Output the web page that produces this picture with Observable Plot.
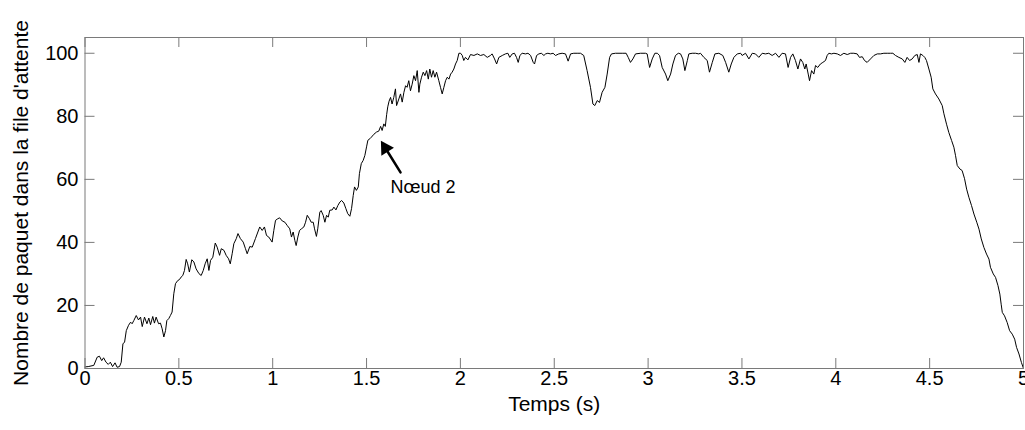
<!DOCTYPE html>
<html>
<head>
<meta charset="utf-8">
<script src="https://cdn.jsdelivr.net/npm/d3@7"></script>
<script src="https://cdn.jsdelivr.net/npm/@observablehq/plot@0.6"></script>
<style>
  html, body { margin: 0; padding: 0; background: #fff; }
  #chart svg { display: block; }
</style>
</head>
<body>
<div id="chart"></div>
<script>
// Time (s) samples
const time = [
  0, 0.017, 0.047, 0.065, 0.077, 0.089, 0.099, 0.112, 0.124, 0.135, 0.147, 0.160, 0.171, 0.184, 0.193,
  0.202, 0.211, 0.220, 0.232, 0.243, 0.251, 0.260, 0.273, 0.285, 0.296, 0.305, 0.317, 0.330, 0.340, 0.349,
  0.361, 0.370, 0.379, 0.392, 0.402, 0.411, 0.420, 0.429, 0.436, 0.446, 0.455, 0.464, 0.473, 0.482, 0.494,
  0.503, 0.512, 0.521, 0.530, 0.539, 0.547, 0.556, 0.569, 0.580, 0.592, 0.607, 0.619, 0.630, 0.640, 0.651,
  0.660, 0.669, 0.681, 0.694, 0.704, 0.717, 0.726, 0.740, 0.752, 0.765, 0.774, 0.784, 0.793, 0.806, 0.815,
  0.828, 0.843, 0.855, 0.864, 0.878, 0.891, 0.908, 0.921, 0.931, 0.944, 0.956, 0.967, 0.979, 0.997, 1.006,
  1.015, 1.027, 1.037, 1.051, 1.065, 1.077, 1.091, 1.100, 1.109, 1.118, 1.125, 1.134, 1.143, 1.153, 1.166,
  1.175, 1.184, 1.196, 1.205, 1.216, 1.223, 1.233, 1.240, 1.251, 1.258, 1.269, 1.278, 1.287, 1.296, 1.304,
  1.317, 1.326, 1.337, 1.347, 1.358, 1.367, 1.379, 1.390, 1.400, 1.411, 1.420, 1.429, 1.436, 1.446, 1.456,
  1.462, 1.472, 1.482, 1.491, 1.500, 1.507, 1.518, 1.526, 1.539, 1.553, 1.565, 1.575, 1.583, 1.592, 1.600,
  1.607, 1.613, 1.620, 1.628, 1.636, 1.645, 1.654, 1.660, 1.672, 1.681, 1.690, 1.699, 1.708, 1.716, 1.725,
  1.734, 1.743, 1.752, 1.761, 1.770, 1.779, 1.784, 1.793, 1.802, 1.811, 1.820, 1.829, 1.837, 1.846, 1.855,
  1.864, 1.873, 1.885, 1.894, 1.903, 1.912, 1.921, 1.930, 1.939, 1.948, 1.956, 1.965, 1.974, 1.983, 1.992,
  2.001, 2.010, 2.018, 2.027, 2.040, 2.054, 2.072, 2.090, 2.107, 2.125, 2.143, 2.160, 2.169, 2.182, 2.193,
  2.205, 2.223, 2.240, 2.253, 2.263, 2.276, 2.288, 2.299, 2.308, 2.317, 2.329, 2.347, 2.360, 2.374, 2.388,
  2.395, 2.406, 2.418, 2.431, 2.445, 2.454, 2.466, 2.480, 2.494, 2.507, 2.524, 2.542, 2.560, 2.574, 2.587,
  2.604, 2.622, 2.640, 2.657, 2.675, 2.693, 2.706, 2.716, 2.729, 2.741, 2.755, 2.770, 2.782, 2.795, 2.805,
  2.826, 2.862, 2.883, 2.894, 2.906, 2.919, 2.933, 2.960, 2.986, 2.995, 3.008, 3.022, 3.036, 3.049, 3.061,
  3.075, 3.093, 3.105, 3.120, 3.132, 3.146, 3.161, 3.173, 3.185, 3.196, 3.209, 3.217, 3.235, 3.253, 3.270,
  3.279, 3.297, 3.315, 3.327, 3.342, 3.356, 3.377, 3.398, 3.413, 3.430, 3.443, 3.457, 3.475, 3.493, 3.501,
  3.519, 3.537, 3.555, 3.572, 3.590, 3.608, 3.625, 3.643, 3.661, 3.679, 3.697, 3.714, 3.732, 3.746, 3.759,
  3.771, 3.785, 3.798, 3.812, 3.824, 3.835, 3.842, 3.853, 3.860, 3.871, 3.883, 3.892, 3.904, 3.918, 3.931,
  3.945, 3.954, 3.963, 3.977, 3.990, 4.008, 4.025, 4.043, 4.061, 4.079, 4.096, 4.114, 4.126, 4.141, 4.153,
  4.167, 4.185, 4.203, 4.221, 4.238, 4.256, 4.274, 4.291, 4.304, 4.318, 4.336, 4.354, 4.368, 4.380, 4.393,
  4.407, 4.421, 4.434, 4.443, 4.451, 4.464, 4.474, 4.483, 4.496, 4.508, 4.517, 4.531, 4.549, 4.567, 4.576,
  4.590, 4.602, 4.617, 4.629, 4.638, 4.647, 4.661, 4.673, 4.686, 4.697, 4.709, 4.723, 4.736, 4.751, 4.763,
  4.775, 4.789, 4.803, 4.816, 4.824, 4.839, 4.851, 4.864, 4.874, 4.881, 4.887, 4.899, 4.913, 4.926, 4.940,
  4.953, 4.963, 4.976, 4.989, 5.000
];

// Queue length (packets) at each sample
const packets = [
  0.5, 0.6, 1.0, 3.6, 3.9, 2.5, 3.4, 2.0, 1.3, 2.0, 0.6, 1.8, 0.4, 0.6, 2.0,
  7.8, 8.4, 12.0, 13.7, 14.7, 14.2, 15.2, 16.8, 15.4, 16.3, 13.3, 16.3, 14.2, 16.0, 13.9,
  16.5, 14.4, 16.3, 14.2, 14.4, 12.6, 10.0, 12.0, 15.2, 15.8, 16.8, 17.9, 23.7, 26.9, 27.9,
  28.2, 29.0, 29.5, 31.1, 34.6, 33.2, 30.6, 34.5, 33.8, 31.6, 30.1, 29.5, 31.1, 33.2, 34.8,
  31.1, 34.3, 35.3, 39.8, 38.5, 35.9, 38.0, 37.5, 35.9, 34.8, 33.2, 36.4, 39.6, 41.2, 42.8,
  41.2, 40.1, 38.0, 36.4, 38.7, 38.5, 41.2, 43.3, 44.9, 43.8, 44.9, 42.2, 41.7, 40.1, 43.8,
  47.0, 47.5, 47.8, 46.8, 46.4, 45.4, 44.3, 41.7, 43.3, 40.6, 39.0, 41.7, 43.8, 44.3, 44.9,
  46.4, 48.6, 47.5, 46.4, 46.4, 44.3, 41.9, 44.3, 49.6, 50.1, 48.6, 46.4, 48.6, 48.0, 50.2,
  50.3, 51.2, 50.3, 51.7, 52.8, 53.3, 52.5, 50.7, 49.1, 48.3, 50.7, 54.9, 57.6, 56.5, 57.6,
  61.8, 65.0, 66.0, 67.6, 70.3, 72.4, 72.9, 73.4, 74.3, 75.0, 75.3, 76.8, 75.5, 77.6, 76.8,
  80.5, 83.0, 84.8, 86.0, 83.9, 86.0, 88.7, 83.4, 85.5, 87.1, 84.5, 87.6, 89.7, 89.2, 91.3,
  88.1, 90.2, 92.9, 91.3, 94.5, 87.6, 90.2, 92.4, 94.0, 92.9, 94.5, 91.8, 95.0, 92.4, 94.5,
  92.4, 94.0, 91.3, 89.2, 87.1, 89.2, 91.3, 92.4, 91.8, 93.4, 94.0, 95.0, 96.6, 97.7, 100.0,
  100.0, 99.3, 97.7, 98.7, 97.9, 99.6, 99.3, 99.8, 99.3, 99.6, 98.7, 99.3, 99.8, 98.2, 96.6,
  98.7, 99.3, 99.8, 100.0, 98.7, 99.8, 100.0, 98.7, 97.1, 99.3, 100.0, 99.8, 100.0, 99.3, 97.1,
  96.6, 99.3, 99.8, 100.0, 99.3, 99.8, 100.0, 99.8, 100.0, 99.3, 99.8, 100.0, 99.8, 97.5, 99.8,
  100.0, 100.0, 100.0, 99.3, 94.5, 89.2, 83.9, 83.4, 85.0, 84.4, 87.6, 89.2, 93.4, 98.7, 99.8,
  100.0, 100.0, 100.0, 98.7, 97.1, 98.2, 99.8, 100.0, 100.0, 99.8, 95.5, 98.2, 100.0, 100.0, 99.3,
  95.5, 93.4, 91.3, 93.4, 96.6, 99.3, 100.0, 99.8, 98.2, 94.5, 97.7, 99.8, 100.0, 100.0, 99.8,
  100.0, 98.7, 97.7, 94.0, 97.1, 99.8, 100.0, 99.3, 97.1, 94.0, 96.6, 98.7, 99.8, 100.0, 99.3,
  100.0, 98.2, 100.0, 99.8, 98.7, 100.0, 99.8, 100.0, 99.3, 100.0, 98.7, 100.0, 99.8, 95.5, 98.7,
  99.8, 97.7, 95.0, 98.2, 97.1, 95.0, 96.6, 93.4, 91.3, 94.5, 93.4, 96.1, 95.5, 96.6, 97.1,
  97.7, 99.3, 100.0, 99.8, 100.0, 99.8, 99.3, 100.0, 99.6, 100.0, 100.0, 99.8, 98.7, 98.9, 97.7,
  97.1, 98.2, 99.3, 99.8, 99.8, 100.0, 100.0, 100.0, 100.0, 99.3, 98.7, 98.2, 97.1, 98.7, 97.7,
  98.2, 99.3, 99.6, 97.1, 99.8, 99.3, 98.7, 97.7, 95.0, 92.4, 88.7, 87.1, 85.5, 83.4, 80.8,
  77.5, 74.9, 72.3, 70.2, 67.5, 64.4, 63.3, 62.8, 60.2, 56.9, 54.3, 51.7, 49.0, 46.4, 44.2,
  41.1, 38.4, 36.3, 34.7, 32.1, 30.0, 28.9, 26.3, 23.6, 20.4, 17.8, 16.7, 14.6, 12.0, 10.9,
  9.3, 6.7, 4.6, 1.9, 0.0
];

const xTicks = [0, 0.5, 1, 1.5, 2, 2.5, 3, 3.5, 4, 4.5, 5];
const xTickLabels = ["0", "0.5", "1", "1.5", "2", "2.5", "3", "3.5", "4", "4.5", "5"];
const yTicks = [0, 20, 40, 60, 80, 100];
const yTickLabels = ["0", "20", "40", "60", "80", "100"];

const xTitle = "Temps (s)";
const yTitle = "Nombre de paquet dans la file d'attente";

// Annotation: arrow from label towards the curve
const arrowFrom = [1.681, 62.2];
const arrowTo = [1.585, 71.4];
const noteText = "Nœud 2";
const notePos = [1.628, 57.6];

const data = time.map((t, i) => ({t, q: packets[i]}));
const xt = xTicks.map((v, i) => ({v, label: xTickLabels[i]}));
const yt = yTicks.map((v, i) => ({v, label: yTickLabels[i]}));

const W = 1025, H = 430;
const mL = 84.5, mR = 2, mT = 37, mB = 62;
const innerW = W - mL - mR, innerH = H - mT - mB;
const tickLen = 10;
const gray = "#7a7a7a";

// Screen-space angle of the arrow (for the filled head), derived from the scales
const xs = d3.scaleLinear([0, 5], [mL, W - mR]);
const ys = d3.scaleLinear([0, 105], [H - mB, mT]);
const ax = xs(arrowTo[0]) - xs(arrowFrom[0]);
const ay = ys(arrowTo[1]) - ys(arrowFrom[1]);
const headAngle = Math.atan2(ax, -ay) * 180 / Math.PI;

const chart = Plot.plot({
  width: W,
  height: H,
  marginLeft: mL,
  marginRight: mR,
  marginTop: mT,
  marginBottom: mB,
  style: {fontFamily: "'Liberation Sans', Arial, Helvetica, sans-serif", background: "#fff", color: "#000"},
  x: {domain: [0, 5], axis: null},
  y: {domain: [0, 105], axis: null},
  marks: [
    Plot.line(data, {x: "t", y: "q", stroke: "#000", strokeWidth: 1}),
    Plot.frame({stroke: gray, strokeWidth: 1}),
    Plot.tickX(xt, {x: "v", stroke: gray, insetTop: innerH - tickLen}),
    Plot.tickX(xt, {x: "v", stroke: gray, insetBottom: innerH - tickLen}),
    Plot.tickY(yt, {y: "v", stroke: gray, insetRight: innerW - tickLen}),
    Plot.tickY(yt, {y: "v", stroke: gray, insetLeft: innerW - tickLen}),
    Plot.text(xt, {x: "v", text: "label", frameAnchor: "bottom", textAnchor: "middle", dy: 16, fontSize: 20, fill: "#000"}),
    Plot.text(yt, {y: "v", text: "label", frameAnchor: "left", dx: -6.5, textAnchor: "end", fontSize: 20, fill: "#000"}),
    Plot.text([xTitle], {frameAnchor: "bottom", textAnchor: "middle", dy: 42, fontSize: 21, fill: "#000"}),
    Plot.text([yTitle], {frameAnchor: "left", textAnchor: "middle", rotate: -90, dx: -64, fontSize: 21, fill: "#000"}),
    Plot.arrow([{x1: arrowFrom[0], y1: arrowFrom[1], x2: arrowTo[0], y2: arrowTo[1]}],
      {x1: "x1", y1: "y1", x2: "x2", y2: "y2", stroke: "#000", strokeWidth: 2.5, headLength: 0, insetEnd: 6}),
    Plot.dot([{x: arrowTo[0], y: arrowTo[1]}],
      {x: "x", y: "y", symbol: "triangle", r: 5.5, fill: "#000", stroke: "none", rotate: headAngle,
       dx: -(ax / Math.hypot(ax, ay)) * 5.5, dy: -(ay / Math.hypot(ax, ay)) * 5.5}),
    Plot.text([{x: notePos[0], y: notePos[1], s: noteText}], {x: "x", y: "y", text: "s", textAnchor: "start", fontSize: 18, fill: "#000"})
  ]
});
document.getElementById("chart").append(chart);
</script>
</body>
</html>
